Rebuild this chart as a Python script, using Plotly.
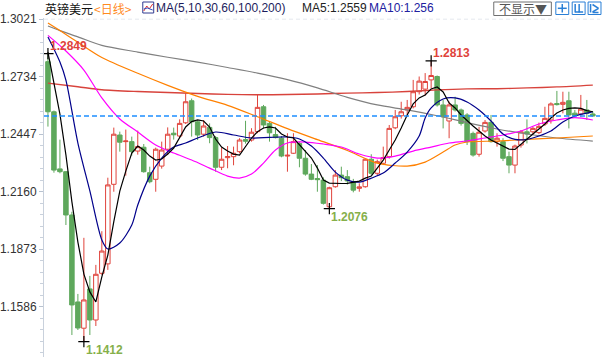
import plotly.graph_objects as go

# ---------------- data ----------------
open_ = [1.2809, 1.2559, 1.2274, 1.2260, 1.2044, 1.1610, 1.1479, 1.1675, 1.1520, 1.1753,
         1.1800, 1.2197, 1.2443, 1.2410, 1.2410, 1.2363, 1.2382, 1.2255, 1.2222, 1.2288,
         1.2372, 1.2452, 1.2438, 1.2504, 1.2614, 1.2509, 1.2447, 1.2481, 1.2430, 1.2282,
         1.2330, 1.2335, 1.2360, 1.2420, 1.2418, 1.2460, 1.2584, 1.2501, 1.2445, 1.2427,
         1.2338, 1.2352, 1.2401, 1.2327, 1.2248, 1.2226, 1.2218, 1.2085, 1.2185, 1.2243,
         1.2235, 1.2210, 1.2177, 1.2185, 1.2322, 1.2252, 1.2302, 1.2335, 1.2479, 1.2539,
         1.2568, 1.2584, 1.2659, 1.2672, 1.2718, 1.2735, 1.2593, 1.2513, 1.2593, 1.2568,
         1.2543, 1.2451, 1.2347, 1.2463, 1.2506, 1.2410, 1.2410, 1.2335, 1.2293, 1.2393,
         1.2459, 1.2459, 1.2455, 1.2498, 1.2518, 1.2600, 1.2596, 1.2614, 1.2552, 1.2548,
         1.2568, 1.2548]
high = [1.2849, 1.2565, 1.2420, 1.2262, 1.2060, 1.1650, 1.1930, 1.1740, 1.1795, 1.1963,
        1.2230, 1.2480, 1.2460, 1.2470, 1.2435, 1.2465, 1.2398, 1.2285, 1.2380, 1.2410,
        1.2481, 1.2480, 1.2521, 1.2651, 1.2625, 1.2517, 1.2517, 1.2501, 1.2438, 1.2380,
        1.2388, 1.2385, 1.2427, 1.2514, 1.2477, 1.2643, 1.2593, 1.2509, 1.2484, 1.2438,
        1.2452, 1.2452, 1.2410, 1.2368, 1.2298, 1.2293, 1.2232, 1.2185, 1.2268, 1.2285,
        1.2268, 1.2224, 1.2202, 1.2327, 1.2347, 1.2320, 1.2385, 1.2493, 1.2568, 1.2609,
        1.2618, 1.2718, 1.2735, 1.2752, 1.2813, 1.2740, 1.2618, 1.2610, 1.2634, 1.2575,
        1.2552, 1.2460, 1.2484, 1.2518, 1.2543, 1.2452, 1.2427, 1.2360, 1.2395, 1.2468,
        1.2521, 1.2484, 1.2505, 1.2584, 1.2606, 1.2663, 1.2659, 1.2659, 1.2568, 1.2643,
        1.2618, 1.2560]
low = [1.2485, 1.2255, 1.2252, 1.1994, 1.1445, 1.1470, 1.1412, 1.1445, 1.1490, 1.1745,
       1.1770, 1.2160, 1.2360, 1.2240, 1.2340, 1.2345, 1.2255, 1.2202, 1.2160, 1.2275,
       1.2343, 1.2420, 1.2427, 1.2498, 1.2435, 1.2418, 1.2435, 1.2402, 1.2260, 1.2268,
       1.2277, 1.2292, 1.2352, 1.2400, 1.2410, 1.2452, 1.2476, 1.2410, 1.2426, 1.2332,
       1.2260, 1.2349, 1.2282, 1.2240, 1.2218, 1.2160, 1.2096, 1.2076, 1.2180, 1.2213,
       1.2196, 1.2157, 1.2160, 1.2180, 1.2243, 1.2243, 1.2293, 1.2325, 1.2472, 1.2525,
       1.2534, 1.2576, 1.2645, 1.2640, 1.2676, 1.2585, 1.2476, 1.2427, 1.2560, 1.2490,
       1.2393, 1.2335, 1.2335, 1.2455, 1.2405, 1.2385, 1.2313, 1.2252, 1.2252, 1.2380,
       1.2401, 1.2443, 1.2447, 1.2488, 1.2500, 1.2590, 1.2551, 1.2476, 1.2530, 1.2534,
       1.2518, 1.2534]
close = [1.2559, 1.2268, 1.2260, 1.2044, 1.1595, 1.1480, 1.1620, 1.1520, 1.1748, 1.1864,
         1.2194, 1.2447, 1.2407, 1.2413, 1.2360, 1.2385, 1.2260, 1.2210, 1.2372, 1.2368,
         1.2447, 1.2444, 1.2501, 1.2609, 1.2509, 1.2443, 1.2488, 1.2430, 1.2282, 1.2322,
         1.2335, 1.2352, 1.2418, 1.2412, 1.2457, 1.2581, 1.2493, 1.2454, 1.2430, 1.2338,
         1.2342, 1.2410, 1.2327, 1.2248, 1.2222, 1.2220, 1.2102, 1.2180, 1.2243, 1.2230,
         1.2214, 1.2168, 1.2184, 1.2322, 1.2252, 1.2310, 1.2330, 1.2476, 1.2534, 1.2559,
         1.2581, 1.2659, 1.2712, 1.2710, 1.2740, 1.2593, 1.2534, 1.2593, 1.2568, 1.2501,
         1.2410, 1.2343, 1.2457, 1.2506, 1.2410, 1.2427, 1.2327, 1.2293, 1.2388, 1.2459,
         1.2448, 1.2476, 1.2486, 1.2526, 1.2598, 1.2595, 1.2606, 1.2543, 1.2540, 1.2572,
         1.2551, 1.2538]

ma5 = [1.2857, 1.2708, 1.2547, 1.2344, 1.2109, 1.1909, 1.1749, 1.1660, 1.1610, 1.1735,
       1.1844, 1.2011, 1.2163, 1.2263, 1.2353, 1.2388, 1.2368, 1.2338, 1.2318, 1.2323,
       1.2348, 1.2378, 1.2428, 1.2483, 1.2510, 1.2518, 1.2513, 1.2483, 1.2423, 1.2383,
       1.2363, 1.2348, 1.2343, 1.2383, 1.2428, 1.2459, 1.2478, 1.2484, 1.2478, 1.2448,
       1.2433, 1.2428, 1.2393, 1.2358, 1.2328, 1.2278, 1.2218, 1.2203, 1.2201, 1.2201,
       1.2202, 1.2206, 1.2213, 1.2228, 1.2238, 1.2278, 1.2318, 1.2368, 1.2418, 1.2478,
       1.2543, 1.2598, 1.2628, 1.2643, 1.2673, 1.2683, 1.2658, 1.2603, 1.2578, 1.2543,
       1.2513, 1.2488, 1.2463, 1.2438, 1.2418, 1.2403, 1.2388, 1.2373, 1.2371, 1.2398,
       1.2423, 1.2448, 1.2473, 1.2498, 1.2528, 1.2553, 1.2568, 1.2576, 1.2578, 1.2576,
       1.2565, 1.2559]

ma10_idx = [0, 2, 3, 5, 7, 9, 10, 12, 14, 15, 17, 19, 21, 23, 25, 28, 31, 34, 37, 40,
            42, 44, 46, 48, 50, 52, 54, 56, 58, 60, 62, 63, 64, 66, 68, 70, 72, 74, 76,
            78, 80, 82, 84, 86, 88, 90, 91]
ma10_val = [1.2932, 1.2807, 1.2717, 1.2403, 1.2164, 1.1919, 1.1874, 1.1904, 1.1994, 1.2094,
            1.2238, 1.2328, 1.2383, 1.2403, 1.2428, 1.2458, 1.2443, 1.2428, 1.2431, 1.2433,
            1.2423, 1.2388, 1.2328, 1.2258, 1.2218, 1.2208, 1.2228, 1.2253, 1.2303, 1.2358,
            1.2438, 1.2528, 1.2578, 1.2623, 1.2628, 1.2608, 1.2568, 1.2513, 1.2448, 1.2421,
            1.2421, 1.2438, 1.2463, 1.2508, 1.2538, 1.2552, 1.2560]

ma30_idx = [0, 3, 6, 9, 12, 15, 18, 21, 24, 27, 30, 32, 34, 36, 38, 40, 43, 46, 49, 52,
            55, 58, 61, 64, 67, 70, 73, 76, 79, 82, 85, 88, 91]
ma30_val = [1.2940, 1.2862, 1.2767, 1.2628, 1.2523, 1.2458, 1.2393, 1.2353, 1.2318, 1.2278,
            1.2238, 1.2228, 1.2248, 1.2303, 1.2368, 1.2403, 1.2408, 1.2398, 1.2383, 1.2348,
            1.2328, 1.2338, 1.2363, 1.2383, 1.2403, 1.2413, 1.2428, 1.2443, 1.2463, 1.2498,
            1.2518, 1.2530, 1.2518]

ma60_idx = [0, 2, 5, 9, 15, 20, 25, 30, 35, 40, 45, 50, 55, 60, 63, 66, 68, 70, 75, 80,
            85, 91]
ma60_val = [1.3002, 1.2964, 1.2906, 1.2830, 1.2751, 1.2691, 1.2636, 1.2591, 1.2534, 1.2475,
            1.2420, 1.2366, 1.2303, 1.2288, 1.2308, 1.2358, 1.2393, 1.2408, 1.2413, 1.2421,
            1.2428, 1.2438]

ma100_idx = [0, 2, 5, 9, 15, 20, 25, 30, 35, 40, 45, 50, 55, 60, 65, 70, 75, 80, 85, 91]
ma100_val = [1.2987, 1.2964, 1.2933, 1.2890, 1.2857, 1.2831, 1.2807, 1.2780, 1.2752, 1.2719,
             1.2678, 1.2631, 1.2593, 1.2568, 1.2539, 1.2505, 1.2473, 1.2448, 1.2428, 1.2413]

ma200_idx = [0, 5, 9, 15, 20, 25, 30, 35, 40, 45, 50, 55, 60, 65, 70, 75, 80, 85, 91]
ma200_val = [1.2702, 1.2684, 1.2669, 1.2660, 1.2655, 1.2650, 1.2646, 1.2644, 1.2645, 1.2648,
             1.2652, 1.2655, 1.2660, 1.2668, 1.2673, 1.2674, 1.2678, 1.2683, 1.2692]

last_price = 1.2538
ytick_vals = [1.3021, 1.2734, 1.2447, 1.2160, 1.1873, 1.1586]
ytick_text = ["1.3021", "1.2734", "1.2447", "1.2160", "1.1873", "1.1586"]

extreme_idx = [0, 6, 47, 64]
extreme_val = [1.2849, 1.1412, 1.2076, 1.2813]
extreme_txt = ["1.2849", "1.1412", "1.2076", "1.2813"]
extreme_kind = ["high", "low", "low", "high"]

# ---------------- layout helpers ----------------
W, H = 602, 357
ML, MR, MT, MB = 40, 2, 18, 0
def fx(px):
    return (px - ML) / (W - ML - MR)
def fy(py):
    return (H - MB - py) / (H - MT - MB)

x = list(range(len(close)))
FONT = "Liberation Sans, Arial, Noto Sans CJK SC, sans-serif"
CJK = "Noto Sans CJK SC, Liberation Sans, sans-serif"
RED = "#e0433b"
GREEN = "#5ea85c"

fig = go.Figure()

fig.add_trace(go.Candlestick(
    x=x, open=open_, high=high, low=low, close=close,
    increasing=dict(line=dict(color=RED, width=1), fillcolor="#ffffff"),
    decreasing=dict(line=dict(color=GREEN, width=1), fillcolor=GREEN),
    whiskerwidth=0, hoverinfo="skip", showlegend=False))

def ma_line(xs, ys, color, width, shape="spline"):
    fig.add_trace(go.Scatter(x=xs, y=ys, mode="lines",
                             line=dict(color=color, width=width, shape=shape, smoothing=0.8),
                             hoverinfo="skip", showlegend=False))

ma_line(ma200_idx, ma200_val, "#d8433c", 1.4)
ma_line(ma100_idx, ma100_val, "#808080", 1.2)
ma_line(ma60_idx, ma60_val, "#ff8000", 1.2)
ma_line(ma30_idx, ma30_val, "#ff00ff", 1.2)
ma_line(ma10_idx, ma10_val, "#00008b", 1.2)
ma_line(x, ma5, "#000000", 1.2, shape="linear")

fig.add_trace(go.Scatter(
    x=extreme_idx, y=extreme_val, mode="markers",
    marker=dict(symbol="cross-thin", size=8, line=dict(color="#000000", width=1.2)),
    hoverinfo="skip", showlegend=False))

annotations = []
for xi, yv, t, k in zip(extreme_idx, extreme_val, extreme_txt, extreme_kind):
    annotations.append(dict(
        x=xi, y=yv, xref="x", yref="y", text="<b>%s</b>" % t, showarrow=False,
        xanchor="left", yanchor="middle", xshift=0, yshift=8 if k == "high" else -8,
        font=dict(family=FONT, size=12, color=RED if k == "high" else "#86b04a")))

# title row
def label(px, py, text, color, family=FONT, size=12, anchor="left"):
    annotations.append(dict(x=fx(px), y=fy(py), xref="paper", yref="paper", text=text,
                            showarrow=False, xanchor=anchor, yanchor="middle",
                            font=dict(family=family, size=size, color=color)))

label(39, 8, "英镑美元", "#111111", family=CJK)
label(88, 8, "&lt;日线&gt;", "#ff8a1e", family=CJK)
label(151, 8, "MA(5,10,30,60,100,200)", "#1c1c5c")
label(298, 8, "MA5:1.2559", "#222222")
label(365, 8, "MA10:1.256", "#2020a0")
label(522, 8.5, "不显示▼", "#555555", family=CJK, anchor="center")

shapes = []
# current price line
shapes.append(dict(type="line", xref="paper", yref="y", x0=0, x1=1,
                   y0=last_price, y1=last_price,
                   line=dict(color="#1e8fff", width=1.4, dash="5px,3px")))
# top dashed grid
shapes.append(dict(type="line", xref="paper", yref="y", x0=0, x1=1,
                   y0=ytick_vals[0], y1=ytick_vals[0],
                   line=dict(color="#e4e8ee", width=1, dash="4px,3px")))

def rect(x0, y0, x1, y1, color, width=1):
    shapes.append(dict(type="rect", xref="paper", yref="paper",
                       x0=fx(x0), x1=fx(x1), y0=fy(y1), y1=fy(y0),
                       line=dict(color=color, width=width), fillcolor="rgba(0,0,0,0)"))

def seg(x0, y0, x1, y1, color, width=1):
    shapes.append(dict(type="line", xref="paper", yref="paper",
                       x0=fx(x0), x1=fx(x1), y0=fy(y0), y1=fy(y1),
                       line=dict(color=color, width=width)))

# small MA icon
rect(139.5, 2, 150.5, 13, "#303a90")
seg(140.5, 11, 143.5, 6, "#e03030")
seg(143.5, 6, 146, 9, "#e03030")
seg(146, 9, 149.5, 4, "#e03030")
seg(140.5, 9, 144, 8, "#3050c0")
seg(144, 8, 149.5, 10, "#3050c0")

# right-top widgets
rect(493, 2, 551, 15.5, "#707070")
rect(555.5, 2, 568.5, 14.5, "#2a7fd6")
seg(562, 4, 562, 12.5, "#2a7fd6", 1.5)
seg(557.5, 8.3, 566.5, 8.3, "#2a7fd6", 1.5)
rect(572, 2, 585, 14.5, "#2a7fd6")
seg(575, 4, 575, 12.5, "#2a7fd6", 1.5)
seg(579, 4, 579, 12.5, "#2a7fd6", 1.5)
seg(575, 12, 583, 12, "#2a7fd6", 1.5)
rect(588, 2, 601, 14.5, "#2a7fd6")
seg(590.5, 4, 590.5, 12.5, "#2a7fd6", 1.5)
seg(592.5, 4.5, 598.5, 8.3, "#2a7fd6", 1.5)
seg(592.5, 12, 598.5, 8.3, "#2a7fd6", 1.5)
seg(592.5, 12.5, 598.5, 12.5, "#2a7fd6", 1.5)

# minor ticks
step = (ytick_vals[0] - ytick_vals[1]) / 5
minor_vals = []
v = ytick_vals[0]
while v > 1.13:
    minor_vals.append(round(v, 5))
    v -= step

fig.update_layout(
    width=W, height=H, margin=dict(l=ML, r=MR, t=MT, b=MB),
    paper_bgcolor="#ffffff", plot_bgcolor="#ffffff",
    showlegend=False, boxgap=0.0, boxgroupgap=0.25,
    xaxis=dict(range=[-0.66, 92.2], visible=False, rangeslider=dict(visible=False),
               fixedrange=True),
    yaxis=dict(range=[1.13353, 1.30269], showgrid=False, zeroline=False,
               showline=True, linecolor="#c9d1dc", linewidth=1,
               tickmode="array", tickvals=ytick_vals, ticktext=ytick_text,
               ticks="outside", ticklen=4, tickcolor="#b8c2d0",
               tickfont=dict(family=FONT, size=12, color="#333333"),
               minor=dict(tickmode="array", tickvals=minor_vals, ticks="outside",
                          ticklen=3, tickcolor="#c9d1dc", showgrid=False)),
    annotations=annotations, shapes=shapes,
)

fig.write_html("out.html", config={"displayModeBar": False},
               post_script="document.body.style.margin='0';document.body.style.overflow='hidden';")
